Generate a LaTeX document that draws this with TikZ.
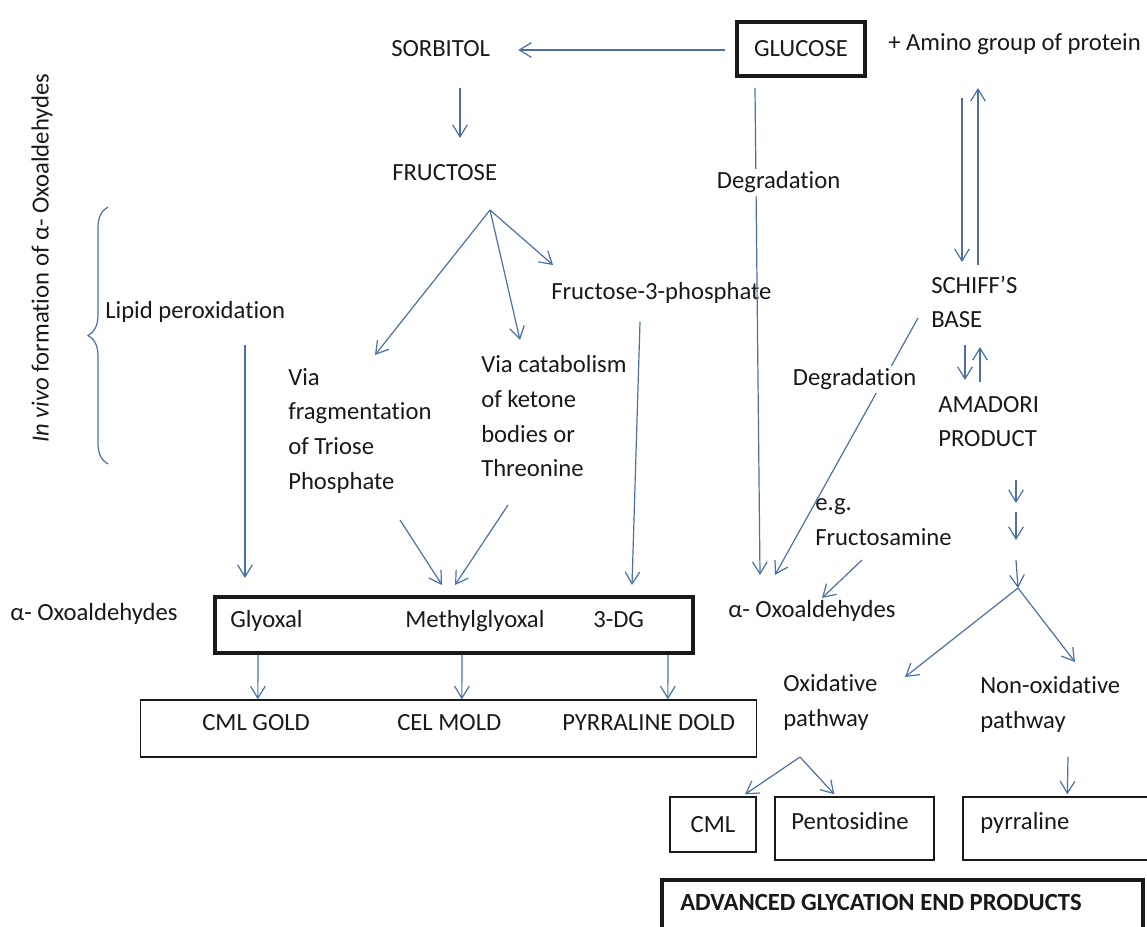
\documentclass[tikz,border=0pt]{standalone}
\usepackage{fontspec}
\setmainfont{Carlito}[Ligatures=NoCommon]
\usepackage{xcolor}
\usepackage{tikz}
\usetikzlibrary{
arrows.meta,
positioning,
calc,
decorations.pathreplacing
}
\definecolor{arrowblue}{RGB}{74,112,168}
\definecolor{inkgray}{RGB}{25,25,25}

\begin{document}
\begin{tikzpicture}[
x=0.75pt,y=-0.75pt,
font=\fontsize{18.5}{26}\selectfont,
every node/.style={text=inkgray},
txt/.style={inner sep=0,anchor=base west},
txtlines/.style={inner sep=0,anchor=base west,align=left},
thinbox/.style={draw=inkgray,line width=1pt,inner sep=0},
thickbox/.style={draw=inkgray,line width=3pt,inner sep=0},
arrow/.style={-{Straight Barb[length=9pt,width=11pt]},draw=arrowblue,line width=0.9pt},
brace/.style={draw=arrowblue,line width=0.9pt,decorate,decoration={brace,amplitude=15pt}}
]
\useasboundingbox (0,0) rectangle (1147,927);
\clip (0,0) rectangle (1147,927);

\node[thickbox,minimum width=96pt,minimum height=40.5pt] (glucose) at (801,49) {GLUCOSE};
\node[txt] (amino) at (888,51) {+ Amino group of protein};
\node[txt] (sorbitol) at (391,57) {SORBITOL};
\node[txt] (fructose) at (392,181) {FRUCTOSE};
\node[txt] (fruct3p) at (551,300) {Fructose-3-phosphate};
\node[txt] (lipid) at (105,319) {Lipid peroxidation};
\node[rotate=90,inner sep=0] (invivo) at (42,258) {\textit{In vivo} formation of α- Oxoaldehydes};
\node[txtlines] (triose) at (288,489) {Via\\fragmentation\\of Triose\\Phosphate};
\node[txtlines] (ketone) at (481,477) {Via catabolism\\of ketone\\bodies or\\Threonine};
\node[txtlines] (schiff) at (931,328) {SCHIFF’S\\BASE};
\node[txtlines] (amadori) at (938,447) {AMADORI\\PRODUCT};
\node[txtlines] (fructosamine) at (815,545) {e.g.\\Fructosamine};
\node[txt] (oxoright) at (728,617) {α- Oxoaldehydes};
\node[txt] (oxoleft) at (10,620) {α- Oxoaldehydes};

\node[thickbox,minimum width=358.5pt,minimum height=42pt] (dicarb) at (454,625) {};
\node[txt] (glyoxal) at (230,627) {Glyoxal};
\node[txt] (methylglyoxal) at (405,627) {Methylglyoxal};
\node[txt] (threedg) at (593,627) {3-DG};

\node[thinbox,minimum width=462pt,minimum height=42.75pt] (endbox) at (448.5,728.5) {};
\node[txt] (cmlgold) at (202,730) {CML GOLD};
\node[txt] (celmold) at (397,730) {CEL MOLD};
\node[txt] (pyrrdold) at (562,730) {PYRRALINE DOLD};

\node[txtlines] (oxidative) at (783,726) {Oxidative\\pathway};
\node[txtlines] (nonoxidative) at (980,728) {Non-oxidative\\pathway};

\node[thinbox,minimum width=64.5pt,minimum height=41.25pt] (cml) at (713,824.5) {CML};
\node[thinbox,minimum width=119.25pt,minimum height=47.25pt] (pentobox) at (854.5,828.5) {};
\node[txt] (pentosidine) at (791,829) {Pentosidine};
\node[thinbox,minimum width=155.25pt,minimum height=47.25pt] (pyrrbox) at (1066.5,828.5) {};
\node[txt] (pyrraline) at (980,829) {pyrraline};

\node[thickbox,minimum width=360.75pt,minimum height=46.5pt] (agebox) at (902.5,911) {};
\node[txt,font=\fontsize{18.5}{26}\selectfont\bfseries] (age) at (680,910) {ADVANCED GLYCATION END PRODUCTS};

\coordinate (fork) at ($(fructose.base west)+(98,29)$);
\coordinate (split) at ($(amadori.base west)+(80,141)$);
\coordinate (splitb) at ($(oxidative.base west)+(17,31)$);

\draw[arrow] ($(glucose.west)+(-10,1)$) -- ($(sorbitol.base east)+(28,-7)$);
\draw[arrow] ($(sorbitol.base west)+(69,31)$) -- ($(fructose.base west)+(68,-43)$);
\draw[arrow] (fork) -- ($(triose.base west)+(87,-134)$);
\draw[arrow] (fork) -- ($(ketone.base west)+(39,-137)$);
\draw[arrow] (fork) -- ($(fruct3p.base west)+(2,-35)$);
\draw[arrow] ($(glucose.south)+(-46,10)$) -- ($(oxoright.base west)+(32,-42)$);
\draw[arrow] ($(fruct3p.base west)+(89,22)$) -- ($(threedg.base west)+(39,-42)$);
\draw[arrow] ($(lipid.base west)+(140,26)$) -- ($(glyoxal.base west)+(15,-49)$);
\draw[arrow] ($(triose.base west)+(112,31)$) -- ($(methylglyoxal.base west)+(37,-42)$);
\draw[arrow] ($(ketone.base west)+(27,28)$) -- ($(methylglyoxal.base west)+(50,-42)$);

\draw[arrow] ($(dicarb.south west)+(45,0)$) -- ($(endbox.north west)+(118,0)$);
\draw[arrow] ($(dicarb.south west)+(249,0)$) -- ($(endbox.north west)+(322,0)$);
\draw[arrow] ($(dicarb.south west)+(455,0)$) -- ($(endbox.north west)+(528,0)$);

\draw[arrow] ($(amino.base west)+(74,47)$) -- ($(schiff.base west)+(31,-66)$);
\draw[arrow] ($(schiff.base west)+(47,-63)$) -- ($(amino.base west)+(90,37)$);
\draw[arrow] ($(schiff.base west)+(-13,-10)$) -- ($(oxoright.base west)+(47,-42)$);
\draw[arrow] ($(schiff.base west)+(34,17)$) -- ($(amadori.base west)+(27,-67)$);
\draw[arrow] ($(amadori.base west)+(42,-65)$) -- ($(schiff.base west)+(49,19)$);

\draw[arrow] ($(amadori.base west)+(78,33)$) -- ($(amadori.base west)+(78,56)$);
\draw[arrow] ($(amadori.base west)+(78,65)$) -- ($(amadori.base west)+(78,93)$);
\draw[arrow] ($(amadori.base west)+(78,113)$) -- (split);
\draw[arrow] ($(fructosamine.base west)+(47,15)$) -- ($(oxoright.base west)+(94,-19)$);
\draw[arrow] (split) -- ($(oxidative.base west)+(122,-49)$);
\draw[arrow] (split) -- ($(nonoxidative.base west)+(95,-66)$);
\draw[arrow] (splitb) -- ($(cml.north)+(32,-2)$);
\draw[arrow] (splitb) -- ($(pentobox.north west)+(60,-2)$);
\draw[arrow] ($(nonoxidative.base west)+(88,29)$) -- ($(pyrrbox.north west)+(105,-2)$);

\node[txt,fill=white,inner sep=2pt] (glucdeg) at (714,189) {Degradation};
\node[txt,fill=white,inner sep=2pt] (schiffdeg) at (790,386) {Degradation};

\draw[brace] (108,464) -- (108,207);

\end{tikzpicture}
\end{document}
